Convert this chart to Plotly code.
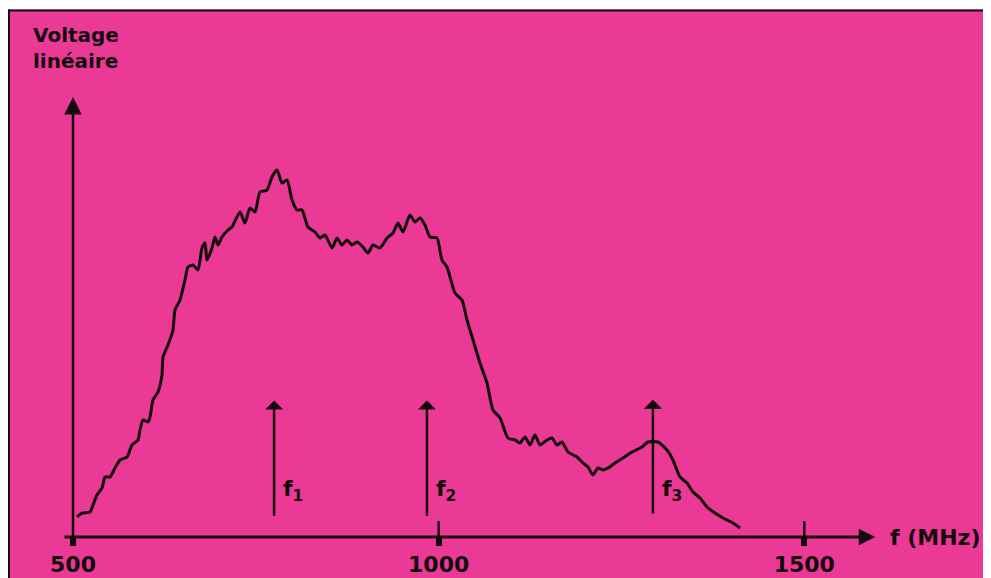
import plotly.graph_objects as go

# Frequency (MHz) and linear voltage (arbitrary units, axis top = 100)
freq_mhz = [505.5, 512.3, 523.2, 527.3, 532.8, 539.7, 543.8, 550.6, 557.4, 564.3,
            573.8, 580.7, 588.9, 591.6, 595.7, 602.6, 605.3, 609.4, 616.2, 621.7,
            623.1, 629.9, 636.7, 639.5, 646.3, 653.1, 657.3, 664.1, 670.9, 676.4,
            680.5, 683.2, 690.1, 694.2, 698.3, 703.7, 712.0, 717.4, 728.4, 735.2,
            742.0, 748.9, 755.7, 765.3, 772.1, 779.0, 785.8, 792.6, 799.5, 806.3,
            813.1, 821.3, 830.9, 837.7, 844.6, 854.2, 861.0, 867.8, 874.7, 881.5,
            888.3, 896.5, 903.4, 910.2, 919.8, 929.4, 937.6, 944.4, 951.2, 960.8,
            967.7, 974.5, 981.3, 988.2, 997.7, 1004.6, 1011.4, 1022.3, 1031.9, 1038.8,
            1047.0, 1056.5, 1066.1, 1074.3, 1083.9, 1094.8, 1104.4, 1111.2, 1118.1, 1124.9,
            1131.7, 1138.6, 1148.1, 1155.0, 1161.8, 1168.7, 1176.9, 1189.2, 1197.4, 1204.2,
            1211.0, 1217.9, 1224.7, 1231.6, 1241.1, 1252.1, 1264.4, 1278.1, 1286.3, 1299.9,
            1312.2, 1320.4, 1330.0, 1339.6, 1347.8, 1357.4, 1366.9, 1377.9, 1388.8, 1402.5,
            1412.1]
voltage = [4.55, 5.45, 5.68, 7.27, 9.55, 11.14, 13.64, 13.64, 15.68, 17.5,
           18.18, 20.91, 22.05, 24.32, 26.59, 26.14, 27.27, 31.14, 32.95, 36.82,
           40.91, 43.64, 47.05, 51.59, 53.86, 58.41, 61.36, 61.82, 60.68, 65.68,
           66.82, 62.95, 65.68, 68.18, 66.36, 68.18, 69.77, 70.45, 73.86, 71.36,
           74.77, 73.86, 78.41, 78.86, 81.82, 83.41, 80.45, 81.14, 76.59, 74.32,
           74.32, 70.45, 69.32, 67.95, 68.64, 65.68, 67.95, 66.36, 67.5, 66.36,
           67.05, 65.91, 64.55, 66.36, 65.68, 67.95, 69.09, 71.36, 69.32, 73.18,
           71.59, 72.5, 70.91, 68.18, 67.95, 62.95, 61.36, 55.45, 53.86, 49.32,
           44.77, 39.55, 35.0, 28.86, 27.05, 22.5, 22.05, 21.36, 22.73, 20.91,
           23.18, 20.91, 22.05, 22.5, 20.91, 21.59, 19.32, 18.18, 16.82, 15.91,
           14.09, 15.68, 15.23, 15.68, 16.82, 17.95, 19.32, 20.45, 21.59, 21.59,
           19.77, 17.5, 13.64, 12.27, 10.23, 8.86, 6.82, 5.45, 4.32, 3.18,
           2.05]

# Marked frequencies
f_labels = ["f<sub>1</sub>", "f<sub>2</sub>", "f<sub>3</sub>"]
f_values = [775, 984, 1293]
f_arrow_top = [31.0, 31.0, 31.2]
f_arrow_bottom = [4.5, 4.5, 5.0]

tick_vals = [500, 1000, 1500]
tick_text = ["500", "1000", "1500"]
y_label = "Voltage<br>linéaire"
x_label = "f (MHz)"

PINK = "#EB3996"
INK = "#140A0E"
FONT = "DejaVu Sans"

# The page places the figure 8 px from the top-left corner of the window
W, H = 983, 570
PX_PER_MHZ = 0.7313
X0_PX = 65  # figure pixel of 500 MHz
x_lo = 500 - X0_PX / PX_PER_MHZ
x_hi = 500 + (W - X0_PX) / PX_PER_MHZ
V0_PX = 529  # figure pixel row of V=0
PX_PER_V = 4.4
y_hi = V0_PX / PX_PER_V
y_lo = (V0_PX - H) / PX_PER_V

fig = go.Figure()
fig.add_trace(go.Scatter(
    x=freq_mhz, y=voltage, mode="lines",
    line=dict(color=INK, width=3, shape="spline", smoothing=0.6),
    hoverinfo="skip", showlegend=False,
))

annotations = []
# Y axis arrow
annotations.append(dict(x=500, y=100, ax=500, ay=-1.5, xref="x", yref="y", axref="x", ayref="y",
                        showarrow=True, arrowhead=2, arrowsize=1.4, arrowwidth=2.5,
                        arrowcolor=INK, text="", standoff=0, startstandoff=0))
# X axis arrow
annotations.append(dict(x=1597, y=0, ax=486.3, ay=0, xref="x", yref="y", axref="x", ayref="y",
                        showarrow=True, arrowhead=2, arrowsize=1.1, arrowwidth=3,
                        arrowcolor=INK, text="", standoff=0, startstandoff=0))
# f arrows and labels
for lab, fv, top, bot in zip(f_labels, f_values, f_arrow_top, f_arrow_bottom):
    annotations.append(dict(x=fv, y=top, ax=fv, ay=bot, xref="x", yref="y", axref="x", ayref="y",
                            showarrow=True, arrowhead=1, arrowsize=1.2, arrowwidth=2.5,
                            arrowcolor=INK, text="", standoff=0, startstandoff=0))
    annotations.append(dict(x=fv, y=10.5, xref="x", yref="y", text=lab, showarrow=False,
                            xanchor="left", yanchor="middle", xshift=7,
                            font=dict(family=FONT, size=22, color=INK, weight="bold")))
# Axis labels
annotations.append(dict(x=23 / W, y=1 - 13 / H, xref="paper", yref="paper", text=y_label,
                        showarrow=False, xanchor="left", yanchor="top", align="left",
                        font=dict(family=FONT, size=20, color=INK, weight="bold")))
annotations.append(dict(x=880 / W, y=0, xref="paper", yref="y", text=x_label,
                        showarrow=False, xanchor="left", yanchor="middle",
                        font=dict(family=FONT, size=22, color=INK, weight="bold")))

shapes = []
# upward tick strokes at 1000 and 1500
for tv in tick_vals[1:]:
    shapes.append(dict(type="line", xref="x", yref="y", x0=tv, x1=tv, y0=0, y1=3.6,
                       line=dict(color=INK, width=2.5)))
# white strip and black frame (scan border)
shapes.append(dict(type="rect", xref="paper", yref="paper", x0=0, x1=1, y0=1 - 1.5 / H, y1=1,
                   fillcolor="white", line=dict(width=0), layer="above"))
shapes.append(dict(type="line", xref="paper", yref="paper", x0=1 / W, x1=1 / W, y0=0, y1=1 - 1.5 / H,
                   line=dict(color=INK, width=2), layer="above"))
shapes.append(dict(type="line", xref="paper", yref="paper", x0=0, x1=1, y0=1 - 2.5 / H, y1=1 - 2.5 / H,
                   line=dict(color=INK, width=2), layer="above"))

fig.update_layout(
    width=W, height=H, autosize=False,
    margin=dict(l=0, r=0, t=0, b=0),
    paper_bgcolor=PINK, plot_bgcolor=PINK,
    showlegend=False,
    xaxis=dict(range=[x_lo, x_hi], domain=[0, 1], anchor="free", position=(H - V0_PX) / H,
               showgrid=False, zeroline=False, showline=False,
               tickmode="array", tickvals=tick_vals, ticktext=tick_text,
               ticks="outside", ticklen=8, tickwidth=6, tickcolor=INK,
               tickfont=dict(family=FONT, size=22, color=INK, weight="bold"),
               fixedrange=True),
    yaxis=dict(range=[y_lo, y_hi], domain=[0, 1], visible=False, fixedrange=True),
    annotations=annotations,
    shapes=shapes,
)

fig.write_html("out.html")
